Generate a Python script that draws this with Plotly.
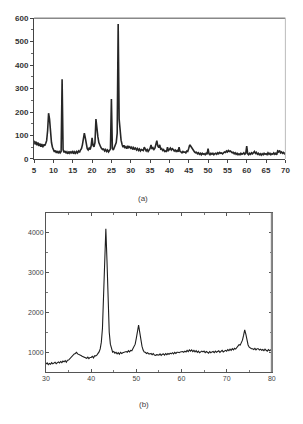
import numpy as np
import plotly.graph_objects as go

# ---------- data (a) ----------
a_start, a_step = 5.0, 0.25
a_counts = [
    78, 62, 74, 58,   # 5
    70, 55, 66, 52,   # 6
    64, 50, 62, 56,   # 7
    66, 78, 120, 195, # 8
    170, 110, 70, 50, # 9
    42, 30, 36, 26,   # 10
    34, 24, 32, 26,   # 11
    32, 340, 40, 28,  # 12
    34, 24, 30, 22,   # 13
    32, 24, 30, 26,   # 14
    34, 22, 30, 24,   # 15
    32, 26, 34, 28,   # 16
    38, 44, 60, 85,   # 17
    110, 90, 62, 44,  # 18
    38, 46, 40, 55,   # 19
    90, 58, 52, 70,   # 20
    170, 110, 95, 70, # 21
    58, 50, 44, 40,   # 22
    42, 34, 40, 32,   # 23
    38, 30, 36, 42,   # 24
    255, 45, 38, 50,  # 25
    55, 70, 110, 575, # 26
    170, 120, 80, 62, # 27
    50, 58, 46, 52,   # 28
    44, 56, 48, 52,   # 29
    46, 50, 40, 48,   # 30
    42, 46, 38, 44,   # 31
    36, 42, 34, 40,   # 32
    38, 36, 50, 40,   # 33
    34, 40, 32, 38,   # 34
    45, 60, 42, 48,   # 35
    40, 46, 60, 78,   # 36
    55, 48, 60, 42,   # 37
    44, 36, 40, 32,   # 38
    34, 30, 50, 36,   # 39
    40, 46, 38, 44,   # 40
    40, 34, 38, 32,   # 41
    36, 30, 50, 32,   # 42
    30, 26, 32, 28,   # 43
    30, 26, 34, 32,   # 44
    45, 60, 55, 48,   # 45
    40, 34, 30, 26,   # 46
    28, 22, 26, 20,   # 47
    24, 18, 24, 20,   # 48
    22, 18, 24, 20,   # 49
    44, 22, 18, 24,   # 50
    20, 24, 18, 22,   # 51
    24, 20, 26, 22,   # 52
    28, 24, 26, 22,   # 53
    26, 30, 28, 34,   # 54
    30, 36, 32, 34,   # 55
    30, 26, 28, 22,   # 56
    26, 20, 24, 18,   # 57
    22, 18, 24, 20,   # 58
    22, 26, 20, 24,   # 59
    55, 22, 18, 24,   # 60
    20, 26, 22, 28,   # 61
    32, 24, 28, 20,   # 62
    24, 18, 22, 16,   # 63
    22, 18, 24, 20,   # 64
    22, 18, 26, 20,   # 65
    24, 18, 22, 20,   # 66
    26, 20, 24, 18,   # 67
    34, 30, 36, 26,   # 68
    30, 24, 28, 22,   # 69
    26,               # 70
]
a_angles = a_start + a_step * np.arange(len(a_counts))

# ---------- data (b) ----------
b_start, b_step = 30.0, 0.25
b_counts = [
    700, 730, 685, 715,     # 30
    695, 735, 705, 725,     # 31
    745, 710, 735, 755,     # 32
    730, 765, 735, 775,     # 33
    755, 785, 745, 795,     # 34
    800, 835, 855, 905,     # 35
    915, 955, 965, 995,     # 36
    955, 945, 945, 915,     # 37
    895, 885, 885, 865,     # 38
    845, 875, 835, 865,     # 39
    865, 895, 855, 905,     # 40
    905, 925, 955, 1005,    # 41
    1080, 1250, 1600, 2400, # 42
    3400, 4100, 3300, 2200, # 43
    1500, 1200, 1080, 1000, # 44
    1015, 975, 995, 955,    # 45
    985, 945, 995, 965,     # 46
    985, 995, 995, 1015,    # 47
    995, 1035, 1005, 1045,  # 48
    1035, 1085, 1115, 1200, # 49
    1350, 1500, 1680, 1500, # 50
    1300, 1150, 1050, 1000, # 51
    995, 965, 985, 955,     # 52
    955, 965, 935, 965,     # 53
    925, 915, 935, 925,     # 54
    925, 955, 915, 945,     # 55
    955, 925, 965, 935,     # 56
    965, 945, 975, 955,     # 57
    985, 955, 995, 965,     # 58
    995, 995, 985, 1005,    # 59
    1005, 1015, 995, 1025,  # 60
    1005, 1045, 1015, 1055, # 61
    1025, 1055, 1015, 1045, # 62
    1005, 1035, 995, 1025,  # 63
    985, 1015, 1025, 1005,  # 64
    1025, 985, 1015, 995,   # 65
    975, 1015, 985, 1005,   # 66
    1015, 985, 1025, 995,   # 67
    1005, 1035, 995, 1025,  # 68
    1045, 1005, 1035, 1045, # 69
    1025, 1065, 1035, 1075, # 70
    1045, 1085, 1055, 1095, # 71
    1075, 1105, 1145, 1185, # 72
    1175, 1225, 1300, 1420, # 73
    1560, 1450, 1300, 1180, # 74
    1125, 1095, 1085, 1085, # 75
    1065, 1095, 1055, 1085, # 76
    1085, 1055, 1075, 1045, # 77
    1065, 1035, 1075, 1045, # 78
    1025, 1065, 1035, 1055, # 79
    1040,                   # 80
]
b_angles = b_start + b_step * np.arange(len(b_counts))

a_xticks = list(range(5, 71, 5))
a_yticks = [0, 100, 200, 300, 400, 500, 600]
b_xticks = [30, 40, 50, 60, 70, 80]
b_yticks = [1000, 2000, 3000, 4000]

W, H = 303, 424
fig = go.Figure()
fig.add_trace(go.Scatter(x=a_angles, y=a_counts, mode="lines",
                         line=dict(color="#262626", width=1.6),
                         xaxis="x", yaxis="y", showlegend=False))
fig.add_trace(go.Scatter(x=b_angles, y=b_counts, mode="lines",
                         line=dict(color="#1e1e1e", width=1.1),
                         xaxis="x2", yaxis="y2", showlegend=False))

fa = dict(family="Liberation Sans, Arial, sans-serif", size=8, color="#333", weight="bold")
fb = dict(family="Liberation Sans, Arial, sans-serif", size=7, color="#444")

fig.update_layout(
    width=W, height=H, margin=dict(l=0, r=0, t=0, b=0),
    paper_bgcolor="white", plot_bgcolor="white",
    xaxis=dict(domain=[31/W, 290/W], anchor="y", range=[5, 70],
               tickvals=a_xticks, ticks="outside", ticklen=3, tickcolor="#444",
               showline=True, linecolor="#444", linewidth=1, showgrid=False,
               zeroline=False, tickfont=fa),
    yaxis=dict(domain=[1-158.3/H, 1-14.5/H], anchor="x", range=[0, 600],
               tickvals=a_yticks, ticks="outside", ticklen=3, tickcolor="#444",
               minor=dict(dtick=50, ticks="outside", ticklen=2, tickcolor="#666"),
               showline=True, linecolor="#444", linewidth=1, showgrid=False,
               zeroline=False, tickfont=fa),
    xaxis2=dict(domain=[43.3/W, 276/W], anchor="y2", range=[30, 80],
                tickvals=b_xticks, ticks="inside", ticklen=3, tickcolor="#555",
                minor=dict(dtick=5, ticks="inside", ticklen=2, tickcolor="#777"),
                showline=True, linecolor="#555", linewidth=1, mirror="ticks",
                showgrid=False, zeroline=False, tickfont=fb),
    yaxis2=dict(domain=[1-376/H, 1-213.3/H], anchor="x2", range=[500, 4500],
                tickvals=b_yticks, ticks="inside", ticklen=3, tickcolor="#555",
                minor=dict(dtick=500, ticks="inside", ticklen=2, tickcolor="#777"),
                showline=True, linecolor="#555", linewidth=1, mirror="ticks",
                showgrid=False, zeroline=False, tickfont=fb),
)

# frame of (a): grey top and right borders
fig.add_shape(type="line", xref="x domain", yref="y domain", x0=0, x1=1, y0=1, y1=1,
              line=dict(color="#888", width=1.5))
fig.add_shape(type="line", xref="x domain", yref="y domain", x0=1, x1=1, y0=0, y1=1,
              line=dict(color="#bbb", width=1))
# thicker grey right border of (b)
fig.add_shape(type="line", xref="x2 domain", yref="y2 domain", x0=1, x1=1, y0=0, y1=1,
              line=dict(color="#888", width=2))

fig.add_annotation(text="(a)", x=143/W, y=1-199/H, xref="paper", yref="paper",
                   showarrow=False, font=dict(family="Liberation Sans, Arial", size=8, color="#444"))
fig.add_annotation(text="(b)", x=144/W, y=1-416/H, xref="paper", yref="paper",
                   showarrow=False, font=dict(family="Liberation Sans, Arial", size=8, color="#444"))

fig.write_html("out.html")
